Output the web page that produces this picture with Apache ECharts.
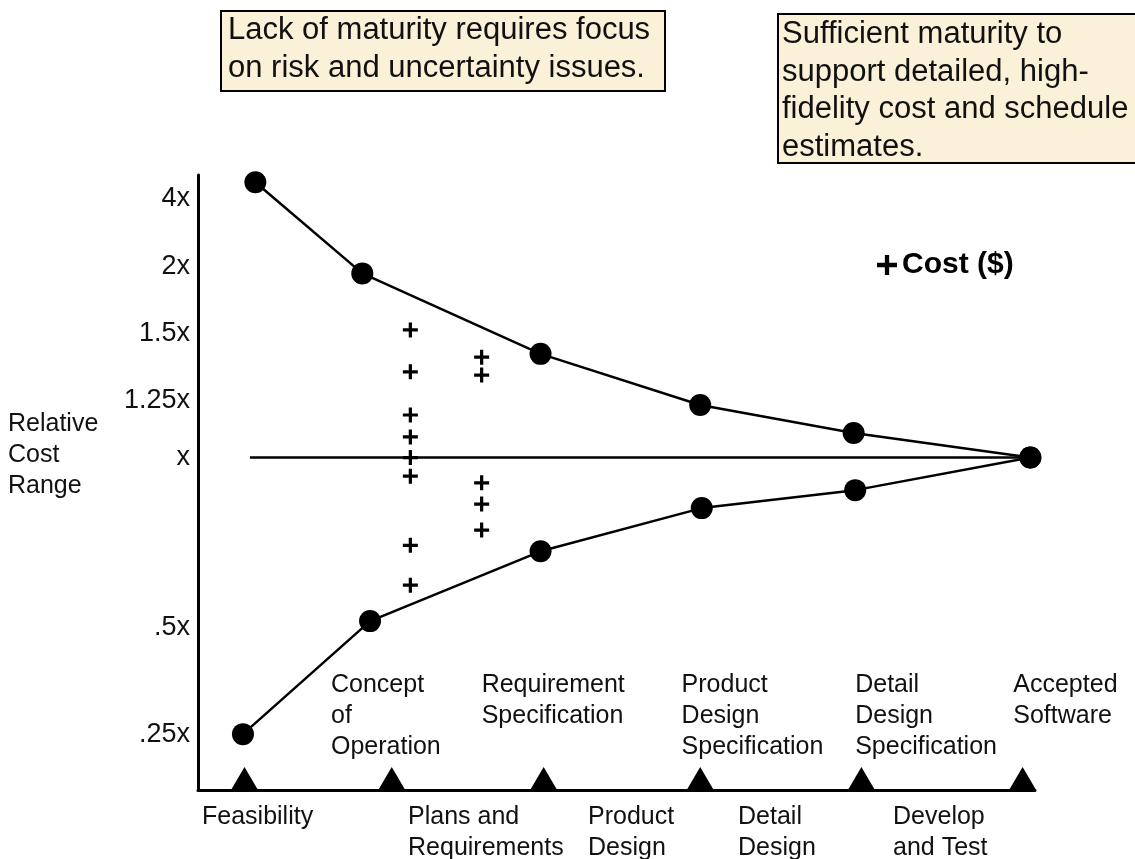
<!DOCTYPE html>
<html>
<head>
<meta charset="utf-8">
<script src="https://cdn.jsdelivr.net/npm/echarts@6/dist/echarts.min.js"></script>
<style>
  html, body { margin: 0; padding: 0; background: #fff; }
  #chart { width: 1135px; height: 859px; }
</style>
</head>
<body>
<div id="chart"></div>
<script>
// ---- data (x: project milestone scale, y: relative cost level) ----
const milestoneX = [0, 0.95, 1.93, 2.94, 3.98, 5.02];
const milestoneLabels = ['Concept\nof\nOperation', 'Requirement\nSpecification', 'Product\nDesign\nSpecification', 'Detail\nDesign\nSpecification', 'Accepted\nSoftware'];
const milestoneLabelX = [0.558, 1.53, 2.82, 3.94, 4.96];
const milestoneLabelY = -3.19;
const phaseNames = ['Feasibility', 'Plans and\nRequirements', 'Product\nDesign', 'Detail\nDesign', 'Develop\nand Test'];
const phaseX = [-0.274, 1.055, 2.216, 3.184, 4.184];
const upperX = [0.07, 0.76, 1.91, 2.94, 3.93, 5.07];
const upperY = [4.14, 2.77, 1.56, 0.79, 0.37, 0];
const lowerX = [-0.01, 0.81, 1.91, 2.95, 3.94, 5.07];
const lowerY = [-4.16, -2.46, -1.41, -0.76, -0.49, 0];
const midX = [0.035, 5.07];
const midY = [0, 0];
const yTickLabels = ['.25x', '.5x', 'x', '1.25x', '1.5x', '2x', '4x'];
const yTickLevels = [-4.17, -2.55, 0, 0.86, 1.87, 2.88, 3.9];
const costX1 = 1.07;
const costY1 = [1.92, 1.29, 0.64, 0.31, 0, -0.28, -1.32, -1.92];
const costX2 = 1.53;
const costY2 = [1.51, 1.24, -0.38, -0.70, -1.09];
const yMin = -5, yMax = 4.25, xMin = -0.3, xMax = 5.1;
const boxLeftText = 'Lack of maturity requires focus\non risk and uncertainty issues.';
const boxRightText = 'Sufficient maturity to\nsupport detailed, high-\nfidelity cost and schedule\nestimates.';
const yAxisTitle = 'Relative\nCost\nRange';
const costName = 'Cost ($)';

// ---- helpers ----
const FONT = '"Liberation Sans", Arial, Helvetica, sans-serif';
const plusPath = 'path://M5.5,0h3v5.5h5.5v3h-5.5v5.5h-3v-5.5h-5.5v-3h5.5z';
function nearestIdx(arr, v) {
  let best = 0, bd = Infinity;
  arr.forEach((a, i) => { const d = Math.abs(a - v); if (d < bd) { bd = d; best = i; } });
  return best;
}
const zip = (xs, ys) => xs.map((x, i) => [x, ys[i]]);
const costData = costY1.map(y => [costX1, y]).concat(costY2.map(y => [costX2, y]));

const chart = echarts.init(document.getElementById('chart'), null, { renderer: 'canvas' });
chart.setOption({
  animation: false,
  backgroundColor: '#ffffff',
  textStyle: { fontFamily: FONT },
  title: {
    text: yAxisTitle, left: 8, top: 409, padding: 0,
    textStyle: { fontFamily: FONT, fontSize: 25, fontWeight: 'normal', lineHeight: 31, color: '#111' }
  },
  legend: {
    data: [{ name: costName, icon: plusPath, itemStyle: { color: '#000', opacity: 1 } }],
    left: 877, top: 250, padding: 0, itemWidth: 20, itemHeight: 20, itemGap: 0,
    selectedMode: false,
    textStyle: { fontFamily: FONT, fontSize: 30, fontWeight: 'bold', color: '#000' }
  },
  grid: { left: 198, right: 100, top: 175, bottom: 69, containLabel: false, outerBoundsMode: 'none' },
  xAxis: {
    type: 'value', min: xMin, max: xMax,
    axisLine: { show: true, onZero: false, lineStyle: { color: '#000', width: 3 } },
    axisTick: { show: false }, splitLine: { show: false },
    axisLabel: {
      customValues: phaseX, align: 'left', margin: 12,
      fontFamily: FONT, fontSize: 25, lineHeight: 31, color: '#111',
      formatter: v => phaseNames[nearestIdx(phaseX, v)]
    }
  },
  yAxis: {
    type: 'value', min: yMin, max: yMax,
    axisLine: { show: true, onZero: false, lineStyle: { color: '#000', width: 3 } },
    axisTick: { show: false }, splitLine: { show: false },
    axisLabel: {
      customValues: yTickLevels, margin: 8, padding: [7, 0, 0, 0],
      fontFamily: FONT, fontSize: 27, color: '#111',
      formatter: v => yTickLabels[nearestIdx(yTickLevels, v)]
    }
  },
  series: [
    {
      name: 'midline', type: 'line', data: zip(midX, midY), showSymbol: false, clip: false,
      lineStyle: { color: '#000', width: 2.5 }, silent: true
    },
    {
      name: 'upper', type: 'line', data: zip(upperX, upperY), clip: false,
      symbol: 'circle', symbolSize: 22, showAllSymbol: true,
      lineStyle: { color: '#000', width: 2.5 }, itemStyle: { color: '#000', opacity: 1 }, z: 3
    },
    {
      name: 'lower', type: 'line', data: zip(lowerX, lowerY), clip: false,
      symbol: 'circle', symbolSize: 22, showAllSymbol: true,
      lineStyle: { color: '#000', width: 2.5 }, itemStyle: { color: '#000', opacity: 1 }, z: 3
    },
    {
      name: costName, type: 'scatter', data: costData, symbol: plusPath, symbolSize: 15,
      itemStyle: { color: '#000', opacity: 1 }, z: 4
    },
    {
      name: 'milestones', type: 'scatter', data: milestoneX.map(x => [x, yMin]), clip: false,
      symbol: 'triangle', symbolSize: [27, 23], symbolOffset: [0, '-50%'],
      itemStyle: { color: '#000', opacity: 1 }, z: 4
    },
    {
      name: 'milestoneLabels', type: 'scatter', clip: false, silent: true,
      data: milestoneLabelX.map((x, i) => ({ value: [x, milestoneLabelY], name: milestoneLabels[i] })),
      symbol: 'circle', symbolSize: 0.01, itemStyle: { color: 'rgba(0,0,0,0)', opacity: 1 },
      label: {
        show: true, position: [0, 0], align: 'left', verticalAlign: 'top',
        formatter: p => p.name, fontFamily: FONT, fontSize: 25, lineHeight: 31, color: '#111'
      }
    }
  ],
  graphic: [
    { type: 'rect', left: 220, top: 10, z: 10,
      shape: { width: 444, height: 80 },
      style: { fill: '#FBF0D8', stroke: '#000', lineWidth: 2 } },
    { type: 'text', left: 228, top: 11, z: 11,
      style: { text: boxLeftText, font: '31px ' + FONT, lineHeight: 38, fill: '#111' } },
    { type: 'rect', left: 777, top: 13, z: 10,
      shape: { width: 380, height: 149 },
      style: { fill: '#FBF0D8', stroke: '#000', lineWidth: 2 } },
    { type: 'text', left: 782, top: 16, z: 11,
      style: { text: boxRightText, font: '31px ' + FONT, lineHeight: 37.5, fill: '#111' } }
  ]
});
</script>
</body>
</html>
